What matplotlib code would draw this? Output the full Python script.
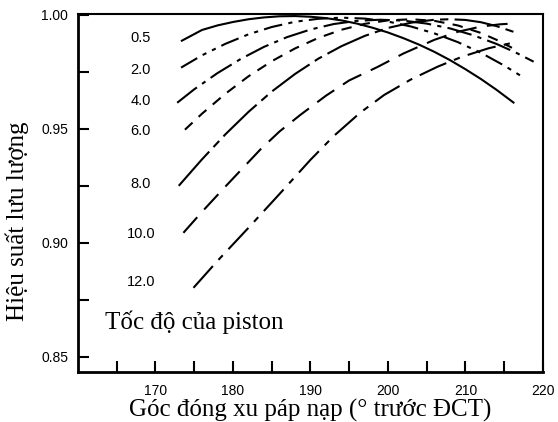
import numpy as np
import matplotlib.pyplot as plt

# piston speed labels (m/s)
speeds = ["0.5", "2.0", "4.0", "6.0", "8.0", "10.0", "12.0"]

x_05 = [173.4, 176, 178, 180, 182, 184, 186, 188, 190, 192, 194, 196, 198, 200, 202, 204, 206, 208, 210, 212, 214, 216.2]
y_05 = [0.9886, 0.9933, 0.9953, 0.9968, 0.9980, 0.9988, 0.9993, 0.9994, 0.9991, 0.9985, 0.9975, 0.9961, 0.9943, 0.9922,
        0.9897, 0.9869, 0.9837, 0.9801, 0.9761, 0.9718, 0.9671, 0.9615]

x_20 = [173.3, 176, 179, 182, 185, 188, 191, 194, 197, 200, 203, 206, 209, 212, 215, 217.1]
y_20 = [0.9768, 0.9822, 0.9872, 0.9914, 0.9946, 0.9969, 0.9982, 0.9987, 0.9983, 0.9970, 0.9948, 0.9918, 0.9880, 0.9833,
        0.9777, 0.9733]

x_40 = [172.8, 175, 178, 181, 184, 187, 190, 193, 196, 199, 202, 205, 208, 211, 214, 216.5, 218.8]
y_40 = [0.9614, 0.9673, 0.9744, 0.9806, 0.9859, 0.9902, 0.9935, 0.9959, 0.9973, 0.9978, 0.9974, 0.9961, 0.9940, 0.9910,
        0.9872, 0.9834, 0.9794]

x_60 = [173.8, 176, 179, 182, 185, 188, 191, 194, 197, 200, 203, 206, 209, 212, 214, 216]
y_60 = [0.9496, 0.9566, 0.9653, 0.9730, 0.9796, 0.9852, 0.9898, 0.9934, 0.9960, 0.9975, 0.9980, 0.9973, 0.9953, 0.9920,
        0.9890, 0.9855]

x_80 = [173.0, 176, 179, 182, 185, 188, 191, 194, 197, 200, 203, 206, 208, 210, 212, 214, 216.2]
y_80 = [0.9250, 0.9366, 0.9475, 0.9574, 0.9663, 0.9740, 0.9807, 0.9862, 0.9907, 0.9942, 0.9965, 0.9978, 0.9980, 0.9977,
        0.9967, 0.9950, 0.9925]

x_100 = [173.6, 176, 179, 183.5, 186, 188.7, 192, 195, 198.6, 202, 206, 209, 212, 214.5, 216.5]
y_100 = [0.9044, 0.9136, 0.9246, 0.9408, 0.9488, 0.9561, 0.9645, 0.9712, 0.9770, 0.9830, 0.9890, 0.9925, 0.9948, 0.9958,
         0.9962]

x_120 = [174.9, 178, 182, 186, 190, 193, 196.4, 199.5, 202.9, 206.4, 209.5, 213, 216.1]
y_120 = [0.8803, 0.8921, 0.9066, 0.9214, 0.9364, 0.9468, 0.9570, 0.9648, 0.9715, 0.9772, 0.9815, 0.9853, 0.9877]

label_x = 168.1
label_y = [0.9899, 0.9759, 0.9623, 0.9491, 0.9259, 0.9040, 0.8829]

curves = [(x_05, y_05), (x_20, y_20), (x_40, y_40), (x_60, y_60), (x_80, y_80), (x_100, y_100), (x_120, y_120)]
styles = ["-", (0, (9, 3, 2, 3, 2, 3)), (0, (12, 3, 2, 3)), (0, (5, 4)),
          (0, (22, 3, 4, 3)), (0, (10, 5)), (0, (14, 4, 3, 4))]

serif = ["Liberation Serif", "DejaVu Serif"]
sans = ["Liberation Sans", "DejaVu Sans"]

fig = plt.figure(figsize=(5.58, 4.22), dpi=100)
ax = fig.add_axes([0.1398, 0.1185, 0.8332, 0.8483])

for (xs, ys), ls in zip(curves, styles):
    ax.plot(xs, ys, color="black", lw=1.5, linestyle=ls)

for s, ly in zip(speeds, label_y):
    ax.text(label_x, ly, s, fontsize=10.5, family=sans, ha="center", va="center")

ax.text(163.5, 0.8653, "Tốc độ của piston", fontsize=18, family=serif, ha="left", va="center")

ax.set_xlim(160, 220)
ax.set_ylim(0.8434, 1.0003)
ax.set_xticks([170, 180, 190, 200, 210, 220])
ax.set_xticks([165, 175, 185, 195, 205, 215], minor=True)
ax.set_yticks([0.85, 0.90, 0.95, 1.00])
ax.set_yticks([0.875, 0.925, 0.975], minor=True)
ax.set_yticklabels(["0.85", "0.90", "0.95", "1.00"], family=sans, fontsize=10)
ax.set_xticklabels(["170", "180", "190", "200", "210", "220"], family=sans, fontsize=10)
ax.tick_params(which="both", direction="in", length=8, width=1.5, color="black")
ax.tick_params(axis="x", which="both", pad=9)
ax.tick_params(axis="y", which="both", pad=7)

for side in ["left", "bottom"]:
    ax.spines[side].set_linewidth(2)
for side in ["top", "right"]:
    ax.spines[side].set_linewidth(1.5)

ax.set_xlabel("Góc đóng xu páp nạp (° trước ĐCT)", family=serif, fontsize=18, labelpad=0)
ax.set_ylabel("Hiệu suất lưu lượng", family=serif, fontsize=18)
ax.yaxis.set_label_coords(-0.105, 0.42)

plt.savefig("out.png", dpi=100)
